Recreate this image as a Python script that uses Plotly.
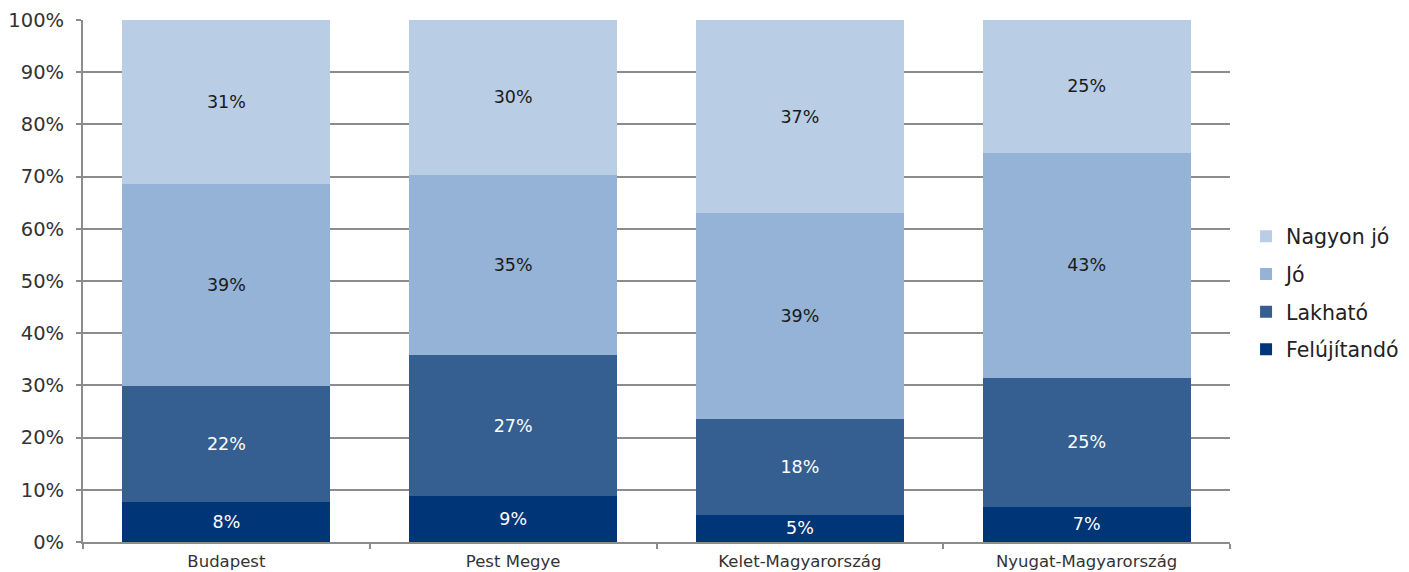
import plotly.graph_objects as go

categories = ["Budapest", "Pest Megye", "Kelet-Magyarország", "Nyugat-Magyarország"]
felujitando = [7.7, 8.8, 5.2, 6.8]
lakhato = [22.2, 27.0, 18.4, 24.7]
jo = [38.7, 34.6, 39.4, 43.1]
nagyon_jo = [31.4, 29.6, 37.0, 25.4]
y_ticks = [0, 10, 20, 30, 40, 50, 60, 70, 80, 90, 100]

series = [
    ("Felújítandó", felujitando, "#003578", "white"),
    ("Lakható", lakhato, "#365F91", "white"),
    ("Jó", jo, "#95B3D7", "#1a1a1a"),
    ("Nagyon jó", nagyon_jo, "#B9CDE5", "#1a1a1a"),
]

font_family = "'DejaVu Sans', sans-serif"

fig = go.Figure()
for i, (name, vals, color, tcolor) in enumerate(series):
    fig.add_trace(go.Bar(
        name=name, x=categories, y=vals, legendgroup=name,
        legendrank=len(series) - i,
        marker=dict(color=color, line=dict(width=0)),
        texttemplate="%{y:.0f}%", textposition="inside",
        insidetextanchor="middle",
        textfont=dict(color=tcolor, size=17.5, family=font_family),
        hoverinfo="skip",
    ))

fig.update_layout(
    barmode="stack",
    bargap=0.275,
    width=1401, height=564,
    margin=dict(l=75, r=179, t=12, b=30, autoexpand=False),
    plot_bgcolor="white", paper_bgcolor="white",
    font=dict(family=font_family, color="#333333"),
    legend=dict(
        x=1.014, xanchor="left", y=0.477, yanchor="middle",
        traceorder="grouped",
        font=dict(size=20.5, color="#222222"),
        itemwidth=30, tracegroupgap=8,
    ),
)
fig.update_yaxes(
    range=[0, 100], tickvals=y_ticks,
    ticktext=[f"{v}%" for v in y_ticks],
    showgrid=True, gridcolor="#8c8c8c", gridwidth=2,
    showline=True, linecolor="#8c8c8c", linewidth=2,
    ticks="outside", ticklen=5, tickcolor="#8c8c8c", tickwidth=2,
    tickfont=dict(size=19.5, color="#333333"),
    ticklabelstandoff=8,
    zeroline=False, automargin=False,
)
fig.update_xaxes(
    showline=True, linecolor="#8c8c8c", linewidth=2,
    ticks="outside", ticklen=5, tickcolor="#8c8c8c", tickwidth=2,
    tickson="boundaries",
    tickfont=dict(size=16.5, color="#333333"),
    ticklabelstandoff=3,
    automargin=False,
)

fig.write_html("out.html")
